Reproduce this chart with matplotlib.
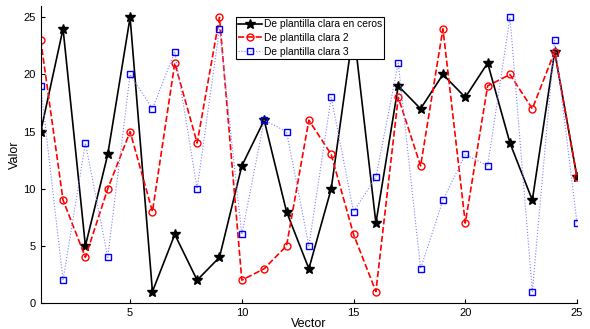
import numpy as np
import matplotlib.pyplot as plt

plt.rcParams['font.family'] = ['Liberation Sans', 'DejaVu Sans']

# datos de cada serie
x = np.arange(1, 26)
negro = [15, 24, 5, 13, 25, 1, 6, 2, 4, 12, 16, 8, 3, 10, 24, 7, 19, 17, 20, 18, 21, 14, 9, 22, 11]
rojo = [23, 9, 4, 10, 15, 8, 21, 14, 25, 2, 3, 5, 16, 13, 6, 1, 18, 12, 24, 7, 19, 20, 17, 22, 11]
azul = [19, 2, 14, 4, 20, 17, 22, 10, 24, 6, 16, 15, 5, 18, 8, 11, 21, 3, 9, 13, 12, 25, 1, 23, 7]
etiquetas = ['De plantilla clara en ceros', 'De plantilla clara 2', 'De plantilla clara 3']

fig = plt.figure(figsize=(5.9, 3.29), dpi=100)
ax = fig.add_axes([0.069, 0.079, 0.909, 0.903])

ax.plot(x, negro, 'k-*', lw=1.2, ms=7, label=etiquetas[0])
ax.plot(x, rojo, '--o', color='red', lw=1.2, ms=5, mfc='none', mew=1.0, label=etiquetas[1])
ax.plot(x, azul, ':s', color='#8080ff', lw=0.8, ms=4, mfc='none', mew=1.0,
        mec='#0000ff', label=etiquetas[2])

ax.set_xlim(1, 25)
ax.set_ylim(0, 26)
ax.set_xticks([5, 10, 15, 20, 25])
ax.set_yticks([0, 5, 10, 15, 20, 25])
ax.tick_params(direction='in', labelsize=8, length=3)
ax.spines['top'].set_visible(False)
ax.spines['right'].set_visible(False)
ax.set_xlabel('Vector', fontsize=9, labelpad=0)
ax.set_ylabel('Valor', fontsize=9, labelpad=2)

leg = ax.legend(loc='upper left', bbox_to_anchor=(0.364, 0.963), fontsize=7.4, frameon=True,
                fancybox=False, framealpha=1, edgecolor='black', borderpad=0.25,
                labelspacing=0.35, handlelength=2.3, handletextpad=0.15,
                borderaxespad=0, numpoints=1)
leg.get_frame().set_linewidth(0.8)

fig.savefig('out.png', dpi=100)
